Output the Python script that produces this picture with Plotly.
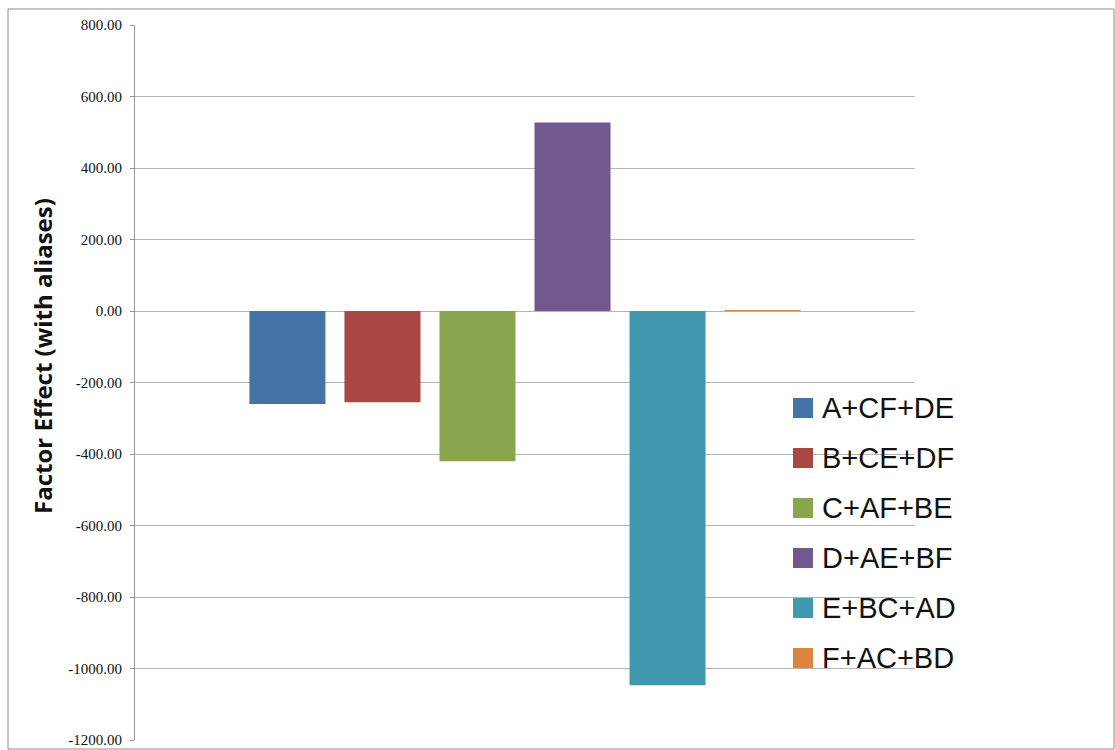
import plotly.graph_objects as go

# Factor effects for the 6-run fractional factorial (aliased effects)
effect_names = ["A+CF+DE", "B+CE+DF", "C+AF+BE", "D+AE+BF", "E+BC+AD", "F+AC+BD"]
effect_values = [-260.0, -255.0, -420.0, 527.0, -1047.0, 2.5]
bar_colors = ["#4572A7", "#AA4643", "#89A54E", "#71588F", "#4198AF", "#DB843D"]
y_tick_values = [800, 600, 400, 200, 0, -200, -400, -600, -800, -1000, -1200]
y_tick_labels = ["800.00", "600.00", "400.00", "200.00", "0.00", "-200.00", "-400.00",
                 "-600.00", "-800.00", "-1000.00", "-1200.00"]
y_title = "Factor Effect (with aliases)"

W, H = 1115, 750
L, R, T, B = 135, 200, 25, 10
PW, PH = W - L - R, H - T - B


def px_x(x):
    return (x - L) / PW


def px_y(y):
    return (H - B - y) / PH


fig = go.Figure()
for name, val, col in zip(effect_names, effect_values, bar_colors):
    fig.add_trace(go.Bar(
        x=["Effects"], y=[val], name=name,
        marker=dict(color=col, line=dict(width=0)),
        showlegend=False,
    ))

shapes = [
    # outer chart frame
    dict(type="rect", xref="paper", yref="paper",
         x0=px_x(8), x1=px_x(1114), y0=px_y(749), y1=px_y(9),
         line=dict(color="#8a8a8a", width=1), fillcolor="rgba(0,0,0,0)", layer="below"),
]
annotations = [
    dict(xref="paper", yref="paper", x=px_x(42), y=px_y(356), text=f"<b>{y_title}</b>",
         textangle=-90, showarrow=False, xanchor="center", yanchor="middle",
         font=dict(family="Open Sans", size=24, color="#111111")),
]

# legend drawn as large squares with labels
legend_x0 = 793
legend_y0 = 408
legend_step = 50
for i, (name, col) in enumerate(zip(effect_names, bar_colors)):
    cy = legend_y0 + i * legend_step
    shapes.append(dict(type="rect", xref="paper", yref="paper",
                       x0=px_x(legend_x0), x1=px_x(legend_x0 + 20),
                       y0=px_y(cy + 10), y1=px_y(cy - 10),
                       fillcolor=col, line=dict(width=0)))
    annotations.append(dict(xref="paper", yref="paper", x=px_x(legend_x0 + 27), y=px_y(cy),
                            text=name, showarrow=False, xanchor="left", yanchor="middle",
                            font=dict(family="Liberation Sans", size=29, color="#111111")))

fig.update_layout(
    width=W, height=H,
    margin=dict(l=L, r=R, t=T, b=B, autoexpand=False),
    paper_bgcolor="white", plot_bgcolor="white",
    barmode="group", bargap=0.269, bargroupgap=0.2,
    shapes=shapes, annotations=annotations,
    showlegend=False,
    xaxis=dict(showticklabels=False, showgrid=False, zeroline=False, ticks="",
               showline=False, automargin=False),
    yaxis=dict(range=[-1200, 800], tickvals=y_tick_values, ticktext=y_tick_labels,
               showgrid=True, gridcolor="#b4b4b4", gridwidth=1, automargin=False,
               zeroline=False, showline=True, linecolor="#9a9a9a", linewidth=1,
               ticks="outside", ticklen=4, tickcolor="#9a9a9a", ticklabelstandoff=5,
               tickfont=dict(family="Liberation Serif", size=15, color="#111111")),
)

fig.write_html("out.html")
